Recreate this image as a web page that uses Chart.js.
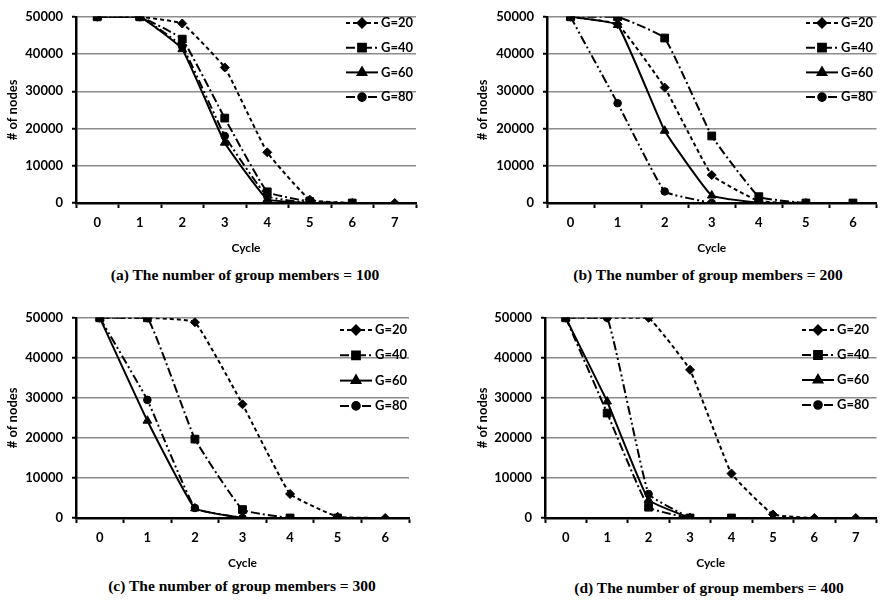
<!DOCTYPE html>
<html>
<head>
<meta charset="utf-8">
<title>Nodes per cycle</title>
<script src="https://cdn.jsdelivr.net/npm/chart.js@4.4.0/dist/chart.umd.min.js"></script>
<style>
    body { margin: 0; background: #fff; width: 883px; height: 602px; position: relative; overflow: hidden; }
    canvas { position: absolute; }
    .caption {
        position: absolute;
        font: bold 15.5px "Liberation Serif", "Times New Roman", serif;
        color: #000;
        white-space: nowrap;
        transform: translate(-50%, -50%);
    }
</style>
</head>
<body>
<canvas id="chartA" width="441" height="262" style="left:0;top:0"></canvas>
<canvas id="chartB" width="442" height="262" style="left:441px;top:0"></canvas>
<canvas id="chartC" width="441" height="276" style="left:0;top:301px"></canvas>
<canvas id="chartD" width="442" height="276" style="left:441px;top:301px"></canvas>

<div class="caption" style="left:245px;top:275px">(a) The number of group members = 100</div>
<div class="caption" style="left:708px;top:275px">(b) The number of group members = 200</div>
<div class="caption" style="left:242px;top:586px">(c) The number of group members = 300</div>
<div class="caption" style="left:709px;top:588px">(d) The number of group members = 400</div>

<script>
// Cycle categories and y ticks
const cyclesLong = ['0', '1', '2', '3', '4', '5', '6', '7'];
const cyclesShort = ['0', '1', '2', '3', '4', '5', '6'];
const groupLabels = ['G=20', 'G=40', 'G=60', 'G=80'];
const nodeTicks = [0, 10000, 20000, 30000, 40000, 50000];

// (a) 100 group members
const membersA_g20 = [50000, 50000, 48200, 36400, 13600, 900, 0, 0];
const membersA_g40 = [50000, 50000, 44000, 22800, 3000, 400, 0];
const membersA_g60 = [50000, 50000, 41300, 16200, 1000, 0];
const membersA_g80 = [50000, 50000, 42000, 18000, 1800, 0];

// (b) 200 group members
const membersB_g20 = [50000, 48000, 31000, 7500, 500, 0];
const membersB_g40 = [50000, 50000, 44300, 18000, 1700, 0, 0];
const membersB_g60 = [50000, 47800, 19400, 2000, 0];
const membersB_g80 = [50000, 26800, 3100, 0];

// (c) 300 group members
const membersC_g20 = [50000, 50000, 48900, 28400, 6000, 300, 0];
const membersC_g40 = [50000, 50000, 19700, 2100, 0, 0];
const membersC_g60 = [50000, 24300, 2400, 0];
const membersC_g80 = [50000, 29500, 2500, 0];

// (d) 400 group members
const membersD_g20 = [50000, 50000, 50000, 37000, 11100, 900, 0, 0];
const membersD_g40 = [50000, 26200, 2700, 0, 0];
const membersD_g60 = [50000, 29100, 4500, 0];
const membersD_g80 = [50000, 50000, 6000, 0];

// line dash + marker per group size
const seriesStyles = [
    { dash: [4, 3], point: 'rectRot', radius: 4.5, order: 1 },
    { dash: [9, 3, 2, 3], point: 'rect', radius: 5.5, order: 0 },
    { dash: [], point: 'triangle', radius: 5, order: 2 },
    { dash: [9, 3, 2, 3, 2, 3], point: 'circle', radius: 3.8, order: 3 }
];

const tickFont = { family: 'Lato', weight: 'bold', size: 13 };
const titleFont = { family: 'Lato', weight: 'bold', size: 12 };

// Legend drawn as "line - marker - line  label" rows inside the plot
const lineLegend = {
    id: 'lineLegend',
    afterDatasetsDraw(chart, args, opts) {
        const ctx = chart.ctx;
        ctx.save();
        chart.data.datasets.forEach((ds, i) => {
            const y = opts.y + i * opts.rowGap;
            ctx.strokeStyle = ds.borderColor;
            ctx.fillStyle = ds.pointBackgroundColor;
            ctx.lineWidth = ds.borderWidth;
            ctx.setLineDash(ds.borderDash || []);
            ctx.beginPath();
            ctx.moveTo(opts.x, y);
            ctx.lineTo(opts.x + opts.lineLength, y);
            ctx.stroke();
            ctx.setLineDash([]);
            Chart.helpers.drawPoint(ctx, {
                pointStyle: ds.pointStyle,
                radius: ds.pointRadius,
                rotation: 0,
                borderWidth: 1
            }, opts.x + opts.lineLength / 2, y);
            ctx.fillStyle = '#000';
            ctx.font = 'bold 13px Lato';
            ctx.textBaseline = 'middle';
            ctx.textAlign = 'left';
            ctx.fillText(ds.label, opts.x + opts.lineLength + 3, y);
        });
        ctx.restore();
    }
};

function buildChart(id, labels, series, box) {
    const datasets = series.map((values, i) => ({
        label: groupLabels[i],
        data: values,
        borderColor: '#000',
        borderWidth: 2,
        borderDash: seriesStyles[i].dash,
        pointStyle: seriesStyles[i].point,
        pointRadius: seriesStyles[i].radius,
        pointBackgroundColor: '#000',
        pointBorderColor: '#000',
        pointBorderWidth: 1,
        tension: 0.1,
        fill: false,
        order: seriesStyles[i].order
    }));

    return new Chart(document.getElementById(id), {
        type: 'line',
        data: { labels: labels, datasets: datasets },
        options: {
            responsive: false,
            animation: false,
            layout: { padding: { left: 0, top: box.top, right: box.right, bottom: 0 } },
            plugins: {
                legend: { display: false },
                tooltip: { enabled: false },
                lineLegend: box.legend
            },
            scales: {
                x: {
                    type: 'category',
                    offset: true,
                    grid: {
                        offset: true,
                        drawOnChartArea: false,
                        drawTicks: true,
                        tickLength: 5,
                        tickColor: '#000',
                        tickWidth: 2
                    },
                    border: { color: '#000', width: 2.5 },
                    ticks: { color: '#000', font: tickFont, padding: 7, maxRotation: 0, autoSkip: false },
                    title: {
                        display: true,
                        text: 'Cycle',
                        color: '#000',
                        font: titleFont,
                        padding: { top: 0, bottom: 7 }
                    },
                    afterFit: scale => { scale.height = 59; }
                },
                y: {
                    min: 0,
                    max: 50000,
                    afterBuildTicks: scale => { scale.ticks = nodeTicks.map(v => ({ value: v })); },
                    grid: { color: '#8c8c8c', lineWidth: 1.5, tickLength: 4, tickColor: '#000', tickWidth: 2 },
                    border: { color: '#000', width: 2.5 },
                    ticks: { color: '#000', font: tickFont, padding: 9, callback: v => String(v) },
                    title: {
                        display: true,
                        text: '# of nodes',
                        color: '#000',
                        font: { family: 'Lato', weight: 'bold', size: 13 },
                        padding: { top: box.titlePad, bottom: 0 }
                    },
                    afterFit: scale => { scale.width = box.axisWidth; }
                }
            }
        },
        plugins: [lineLegend]
    });
}

buildChart('chartA', cyclesLong,
    [membersA_g20, membersA_g40, membersA_g60, membersA_g80],
    { top: 9, right: 25, axisWidth: 76, titlePad: 5,
      legend: { x: 346, y: 23, rowGap: 24.7, lineLength: 32 } });

buildChart('chartB', cyclesShort,
    [membersB_g20, membersB_g40, membersB_g60, membersB_g80],
    { top: 9, right: 5, axisWidth: 106, titlePad: 34,
      legend: { x: 365, y: 23, rowGap: 24.7, lineLength: 32 } });

buildChart('chartC', cyclesShort,
    [membersC_g20, membersC_g40, membersC_g60, membersC_g80],
    { top: 16, right: 32, axisWidth: 76, titlePad: 5,
      legend: { x: 340, y: 29, rowGap: 25.3, lineLength: 32 } });

buildChart('chartD', cyclesLong,
    [membersD_g20, membersD_g40, membersD_g60, membersD_g80],
    { top: 16, right: 5, axisWidth: 104, titlePad: 34,
      legend: { x: 361, y: 29, rowGap: 25, lineLength: 32 } });
</script>
</body>
</html>
